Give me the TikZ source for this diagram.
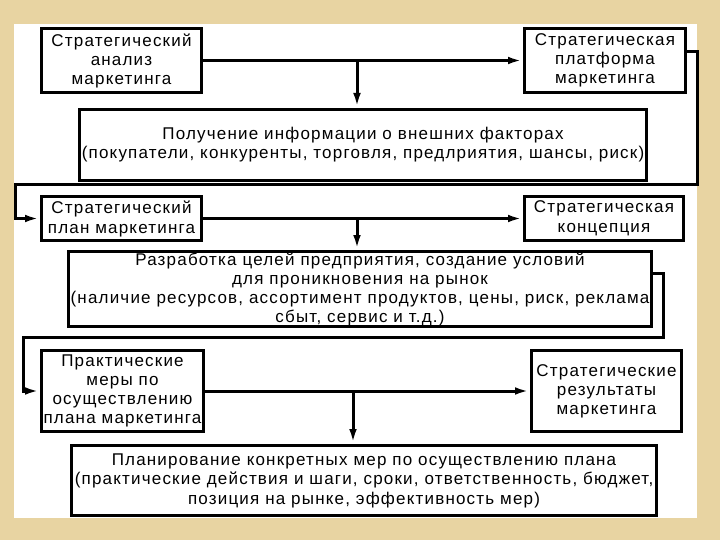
\documentclass[tikz,border=0pt]{standalone}
\usepackage{fontspec}
\setmainfont{Liberation Sans}[LetterSpace=7]
\usetikzlibrary{arrows.meta}
\definecolor{beige}{HTML}{E8D4A2}
\begin{document}
\begin{tikzpicture}[x=1pt,y=-1pt,
  box/.style={draw=black, line width=3pt, fill=white, align=center, inner sep=0pt,
    font=\fontsize{17}{19}\selectfont},
  conn/.style={line width=3pt},
  arr/.style={conn, -{Latex[length=15pt,width=7.5pt]}}]
% background
\fill[beige] (0,0) rectangle (720,540);
\fill[white] (14,24) rectangle (697,518);
\useasboundingbox (0,0) rectangle (720,540);
% boxes
\node[box, minimum width=160pt, minimum height=64pt] (b1) at (121.5,60.5)
  {Стратегический\\анализ\\маркетинга};
\node[box, minimum width=161pt, minimum height=64pt] (b2) at (605,60.5)
  {Стратегическая\\платформа\\маркетинга};
\node[box, minimum width=567pt, minimum height=71pt] (b3) at (363,145)
  {Получение информации о внешних факторах\\(покупатели, конкуренты, торговля, предлриятия, шансы, риск)};
\node[box, minimum width=160pt, minimum height=44pt, font=\fontsize{17}{20}\selectfont] (b4) at (121.5,218.5)
  {Стратегический\\план маркетинга};
\node[box, minimum width=159pt, minimum height=44pt, font=\fontsize{17}{20}\selectfont] (b5) at (604,218.5)
  {Стратегическая\\концепция};
\node[box, minimum width=583pt, minimum height=75pt] (b6) at (360,289)
  {Разработка целей предприятия, создание условий\\для проникновения на рынок\\(наличие ресурсов, ассортимент продуктов, цены, риск, реклама\\сбыт, сервис и т.д.)};
\node[box, minimum width=162pt, minimum height=81pt] (b7) at (122.5,391)
  {Практические\\меры по\\осуществлению\\плана маркетинга};
\node[box, minimum width=150pt, minimum height=81pt] (b8) at (606.5,391)
  {Стратегические\\результаты\\маркетинга};
\node[box, minimum width=585pt, minimum height=70pt, font=\fontsize{17}{19.5}\selectfont] (b9) at (364,480.5)
  {Планирование конкретных мер по осуществлению плана\\(практические действия и шаги, сроки, ответственность, бюджет,\\позиция на рынке, эффективность мер)};
% junctions and corners
\coordinate (j1) at (357,60.5);
\coordinate (j2) at (357,218.5);
\coordinate (j3) at (353,391);
\coordinate (c1) at (697,52);
\coordinate (c2) at (697,185);
\coordinate (c3) at (15,185);
\coordinate (c4) at (15,218.5);
\coordinate (c5) at (663,273);
\coordinate (c6) at (663,337);
\coordinate (c7) at (23,337);
\coordinate (c8) at (23,391);
% connectors
\draw[arr] (b1.east) -- (b2.west);
\draw[arr] (j1) -- (j1 |- b3.north);
\draw[arr] ([yshift=8.5pt]b2.east) -- (c1) -- (c2) -- (c3) -- (c4) -- (b4.west);
\draw[arr] (b4.east) -- (b5.west);
\draw[arr] (j2) -- (j2 |- b6.north);
\draw[arr] ([yshift=16pt]b6.east) -- (c5) -- (c6) -- (c7) -- (c8) -- (b7.west);
\draw[arr] (b7.east) -- (b8.west);
\draw[arr] (j3) -- (j3 |- b9.north);
\end{tikzpicture}
\end{document}
